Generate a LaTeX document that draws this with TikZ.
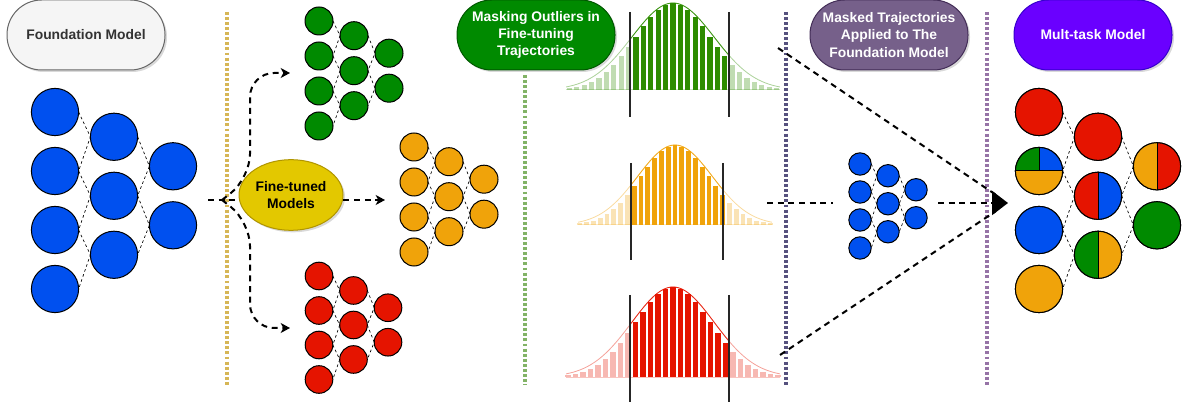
\documentclass[tikz,border=0pt]{standalone}
\usepackage{fontspec}
\setmainfont{Liberation Sans}
\definecolor{fmblue}{RGB}{0,80,239}
\definecolor{ftgreen}{RGB}{0,138,0}
\definecolor{ftorange}{RGB}{240,163,10}
\definecolor{ftred}{RGB}{229,20,0}
\definecolor{ftyellow}{RGB}{227,200,0}
\definecolor{ftyellowdark}{RGB}{176,149,0}
\definecolor{greendark}{RGB}{0,87,0}
\definecolor{histgreen}{RGB}{45,140,0}
\definecolor{mauve}{RGB}{118,96,138}
\definecolor{mauvedark}{RGB}{67,45,87}
\definecolor{mtviolet}{RGB}{106,0,255}
\definecolor{mtvioletdark}{RGB}{55,0,204}
\definecolor{labelgray}{RGB}{245,245,245}
\definecolor{labelgraydark}{RGB}{102,102,102}
\definecolor{labeltext}{RGB}{51,51,51}
\definecolor{sepyellow}{RGB}{214,182,86}
\definecolor{sepgreen}{RGB}{130,179,102}
\definecolor{seppurple}{RGB}{86,81,126}
\definecolor{seplilac}{RGB}{150,115,166}
\usepackage{tikz}
\usetikzlibrary{arrows.meta,positioning,calc,shapes.geometric,shadows}

\tikzset{
  neuron/.style={circle, draw=black, line width=0.75pt, inner sep=0pt, outer sep=0pt},
  wire/.style={line width=0.5pt, dash pattern=on 2pt off 2pt},
  flow/.style={line width=1.5pt, dash pattern=on 4.5pt off 3.5pt},
  arrowtip/.style={-{Stealth[length=7pt, width=7.5pt, inset=2pt]}},
  divider/.style={line width=2.4pt, dash pattern=on 2.2pt off 1.6pt},
  pill/.style={rounded corners=26pt, minimum width=118.5pt, minimum height=52.5pt,
    align=center, line width=0.75pt, font=\bfseries\fontsize{10.4}{12.8}\selectfont,
    drop shadow={opacity=0.3, shadow xshift=1.5pt, shadow yshift=-1.5pt}}
}

\newcommand{\mlpnet}[5]{%
  \foreach \i in {1,...,4}
    \node[neuron, fill=#5, minimum size={0.6pt*#4}] (#1-a\i) at (#2, {#3+(\i-1)*#4}) {};
  \foreach \i in {1,...,3}
    \node[neuron, fill=#5, minimum size={0.6pt*#4}] (#1-b\i) at ({#2+#4}, {#3+0.42*#4+(\i-1)*#4}) {};
  \foreach \i in {1,2}
    \node[neuron, fill=#5, minimum size={0.6pt*#4}] (#1-c\i) at ({#2+2*#4}, {#3+0.92*#4+(\i-1)*#4}) {};
  \foreach \i [evaluate=\i as \j using int(\i+1)] in {1,2,3}
    \draw[wire] (#1-a\i.east) -- (#1-b\i.west) -- (#1-a\j.east);
  \foreach \i [evaluate=\i as \j using int(\i+1)] in {1,2}
    \draw[wire] (#1-b\i.east) -- (#1-c\i.west) -- (#1-b\j.east);
}

\begin{document}
\begin{tikzpicture}[x=0.75pt, y=-0.75pt]
  \useasboundingbox (0,0) rectangle (1184,402);

  \draw[divider, sepyellow] (227,12) -- (227,385);
  \draw[divider, sepgreen] (525,75) -- (525,385);
  \draw[divider, seppurple] (786,12) -- (786,385);
  \draw[divider, seplilac] (987,12) -- (987,385);

  \node[pill, fill=labelgray, draw=labelgraydark, text=labeltext] (found-label) at (86,35) {Foundation Model};
  \node[pill, fill=ftgreen, draw=greendark, text=white] (mask-label) at (536,35) {Masking Outliers in\\Fine-tuning\\Trajectories};
  \node[pill, fill=mauve, draw=mauvedark, text=white] (apply-label) at (889,35) {Masked Trajectories\\Applied to The\\Foundation Model};
  \node[pill, fill=mtviolet, draw=mtvioletdark, text=white] (multi-label) at (1093,35) {Mult-task Model};
  \node[ellipse, fill=ftyellow, draw=ftyellowdark, line width=0.75pt, minimum width=67.5pt, minimum height=53pt,
        inner sep=1pt, align=center, font=\bfseries\fontsize{10.4}{12.8}\selectfont,
        drop shadow={opacity=0.3, shadow xshift=1.5pt, shadow yshift=-1.5pt}] (ft-label) at (291,195) {Fine-tuned\\Models};

  \mlpnet{fm}{55}{112}{59}{fmblue}
  \mlpnet{ftg}{319}{21}{35}{ftgreen}
  \mlpnet{fto}{414}{147}{35}{ftorange}
  \mlpnet{ftr}{319}{276}{34.5}{ftred}
  \mlpnet{mk}{860}{164}{28}{fmblue}
  \mlpnet{mt}{1039}{112}{59}{white}

  \foreach \n/\c in {a1/ftred, a3/fmblue, a4/ftorange, b1/ftred, c2/ftgreen}
    \fill[\c] (mt-\n.center) circle[radius=17.7pt];
  \foreach \n/\l/\r in {b2/ftred/fmblue, b3/ftgreen/ftorange, c1/ftorange/ftred}{
    \fill[\l] (mt-\n.north) arc[start angle=90, end angle=270, radius=17.7pt] -- cycle;
    \fill[\r] (mt-\n.south) arc[start angle=-90, end angle=90, radius=17.7pt] -- cycle;
    \draw[line width=0.75pt] (mt-\n.north) -- (mt-\n.south);
  }
  \fill[ftorange] (mt-a2.east) arc[start angle=0, end angle=-180, radius=17.7pt] -- cycle;
  \fill[ftgreen] (mt-a2.center) -- (mt-a2.west) arc[start angle=180, end angle=90, radius=17.7pt] -- cycle;
  \fill[fmblue] (mt-a2.center) -- (mt-a2.north) arc[start angle=90, end angle=0, radius=17.7pt] -- cycle;
  \draw[line width=0.75pt] (mt-a2.west) -- (mt-a2.east) (mt-a2.center) -- (mt-a2.north);
  \foreach \n in {a1,a2,a3,a4,b1,b2,b3,c1,c2}
    \draw[line width=0.75pt] (mt-\n.center) circle[radius=17.7pt];

  \foreach \cx/\by/\hh/\sg/\dx/\lx/\rx/\lt/\lb/\col in
    {673/90/87/37.5/7.4/630/729/12/117/histgreen,
     675/225/80/34/6.8/631/723/163/260/ftorange,
     673/377/90/37.5/7.5/630/729/295/402/ftred}{
    \pgfmathsetmacro\rg{2.85*\sg}
    \pgfmathsetmacro\sc{1.1*\sg}
    \pgfmathsetmacro\dl{\lx-\cx}
    \pgfmathsetmacro\dr{\rx-\cx}
    \draw[\col, opacity=0.25, line width=0.75pt] (\cx-\rg, \by) -- (\cx+\rg, \by);
    \foreach \k in {-14,...,14}{
      \pgfmathsetmacro\bx{\cx+\k*\dx}
      \pgfmathsetmacro\bh{\hh*exp(-(\k*\dx)^2/(2*\sg^2))}
      \pgfmathsetmacro\op{(\bx>\lx && \bx<\rx) ? 1 : 0.3}
      \fill[\col, fill opacity=\op] (\bx-0.36*\dx, \by) rectangle (\bx+0.36*\dx, \by-\bh);
    }
    \draw[\col, opacity=0.4, line width=0.6pt] plot[domain=-\rg:\rg, samples=60]
      ({\cx+\x}, {\by-\hh*exp(-(\x*\x)/(2*\sc*\sc))});
    \draw[\col, opacity=0.85, line width=0.6pt] plot[domain=\dl:\dr, samples=40]
      ({\cx+\x}, {\by-\hh*exp(-(\x*\x)/(2*\sc*\sc))});
    \draw[black!85, line width=0.8pt] (\lx,\lt) -- (\lx,\lb) (\rx,\lt) -- (\rx,\lb);
  }

  \coordinate (fm-out) at (208,200);
  \coordinate (fan) at (222,200);
  \coordinate (ftg-in) at (290,73);
  \coordinate (ftr-in) at (290,328);
  \coordinate (fto-in) at (385,200);
  \coordinate (hg-out) at (778,48);
  \coordinate (ho-out) at (767,203);
  \coordinate (hr-out) at (780,355);
  \coordinate (mk-in) at (833,203);
  \coordinate (mk-out) at (938,203);
  \coordinate (merge) at (1008,203);

  \draw[flow] (fm-out) -- (fm-out -| ft-label.west);
  \draw[flow, arrowtip, rounded corners=18pt] (fan) -- (250,178) -- (250,73) -- (ftg-in);
  \draw[flow, arrowtip, rounded corners=18pt] (fan) -- (250,222) -- (250,328) -- (ftr-in);
  \draw[flow, arrowtip] (fm-out -| ft-label.east) -- (fto-in);
  \draw[flow] (ho-out) -- (mk-in);
  \draw[flow, -{Triangle[length=12pt, width=18pt]}] (mk-out) -- (merge);
  \draw[flow, shorten >=11pt] (hg-out) -- (merge);
  \draw[flow, shorten >=11pt] (hr-out) -- (merge);
\end{tikzpicture}
\end{document}
